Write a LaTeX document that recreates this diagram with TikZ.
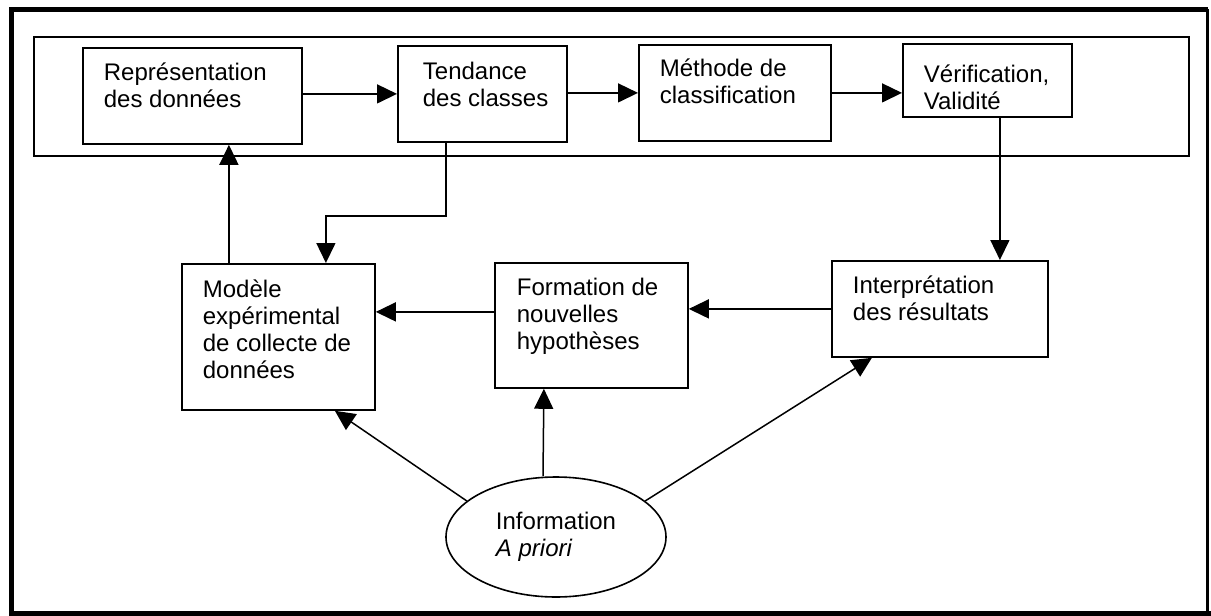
\documentclass[tikz,border=0pt]{standalone}
\usepackage{fontspec}
\setmainfont{Liberation Sans}
\usetikzlibrary{arrows.meta,shapes.geometric}

% Box text: width, height, left pad, first baseline, lines
\newcommand\boxtxt[5]{%
  \begin{minipage}[c][#2pt][t]{#1pt}\raggedright\leftskip=#3pt\relax
  \rule{0pt}{#4pt}#5\end{minipage}}

\tikzset{
  box/.style={draw, line width=1.8pt, fill=white, anchor=north west,
    inner sep=0pt, font=\fontsize{24}{27}\selectfont},
  info/.style={draw, ellipse, line width=1.6pt, fill=white, inner sep=0pt,
    minimum width=220pt, minimum height=120pt, align=left,
    font=\fontsize{24}{27}\selectfont},
  group/.style={draw, line width=2pt},
  frame/.style={line width=5pt},
  arr/.style={line width=1.5pt, -{Triangle[length=20pt,width=19pt]}}
}

\begin{document}
\begin{tikzpicture}[x=1pt, y=-1pt]
  \useasboundingbox (0,0) rectangle (1211,616);
  \fill[white] (0,0) rectangle (1211,616);

  % outer frame
  \draw[frame] (1208,9) -- (11,9) -- (11,613.5) -- (1211,613.5);
  \draw[line width=3pt] (1207,9) -- (1207,613.5);

  % processing stage
  \draw[group] (34,37) rectangle (1189,156);

  \node[box] (rep) at (82,47) {\boxtxt{219}{96}{21}{33}{Représentation\\des données}};
  \node[box] (tend) at (397,45) {\boxtxt{169}{96}{25}{34}{Tendance\\des classes}};
  \node[box] (meth) at (638,44) {\boxtxt{192}{96}{21}{32}{Méthode de\\classification}};
  \node[box] (verif) at (902,43) {\boxtxt{169}{73}{21}{39}{Vérification,\\Validité}};

  \node[box] (modele) at (181,263) {\boxtxt{193}{146}{21}{34}{Modèle\\expérimental\\de collecte de\\données}};
  \node[box] (form) at (494,262) {\boxtxt{193}{125}{22}{33}{Formation de\\nouvelles\\hypothèses}};
  \node[box] (interp) at (831,260) {\boxtxt{216}{96}{21}{33}{Interprétation\\des résultats}};

  \node[info] (info) at (556,537) {Information\\\textit{A priori}};

  % top chain
  \draw[arr] (tend.west -| rep.east) -- (tend.west);
  \draw[arr] (meth.west -| tend.east) -- (meth.west);
  \draw[arr] (meth.east) -- (meth.east -| verif.west);

  % feedback loop
  \draw[arr] ([xshift=12.5pt]verif.south) -- ([xshift=12.5pt]verif.south |- interp.north);
  \draw[arr] (interp.west) -- (interp.west -| form.east);
  \draw[arr] ([yshift=13.5pt]form.west) -- ([yshift=13.5pt]form.west -| modele.east);
  \draw[arr] ([xshift=-49.5pt]modele.north) -- ([xshift=-49.5pt]modele.north |- rep.south);
  \draw[arr] ([xshift=-36.5pt]tend.south) -- ++(0,73) -| ([xshift=47.5pt]modele.north);

  % prior information
  \draw[arr] ([xshift=-13pt]info.north) -- ([xshift=-47.5pt]form.south);
  \draw[arr] (info.158) -- ([xshift=56.5pt]modele.south);
  \draw[arr] (info.22.7) -- ([xshift=-68pt]interp.south);
\end{tikzpicture}
\end{document}
